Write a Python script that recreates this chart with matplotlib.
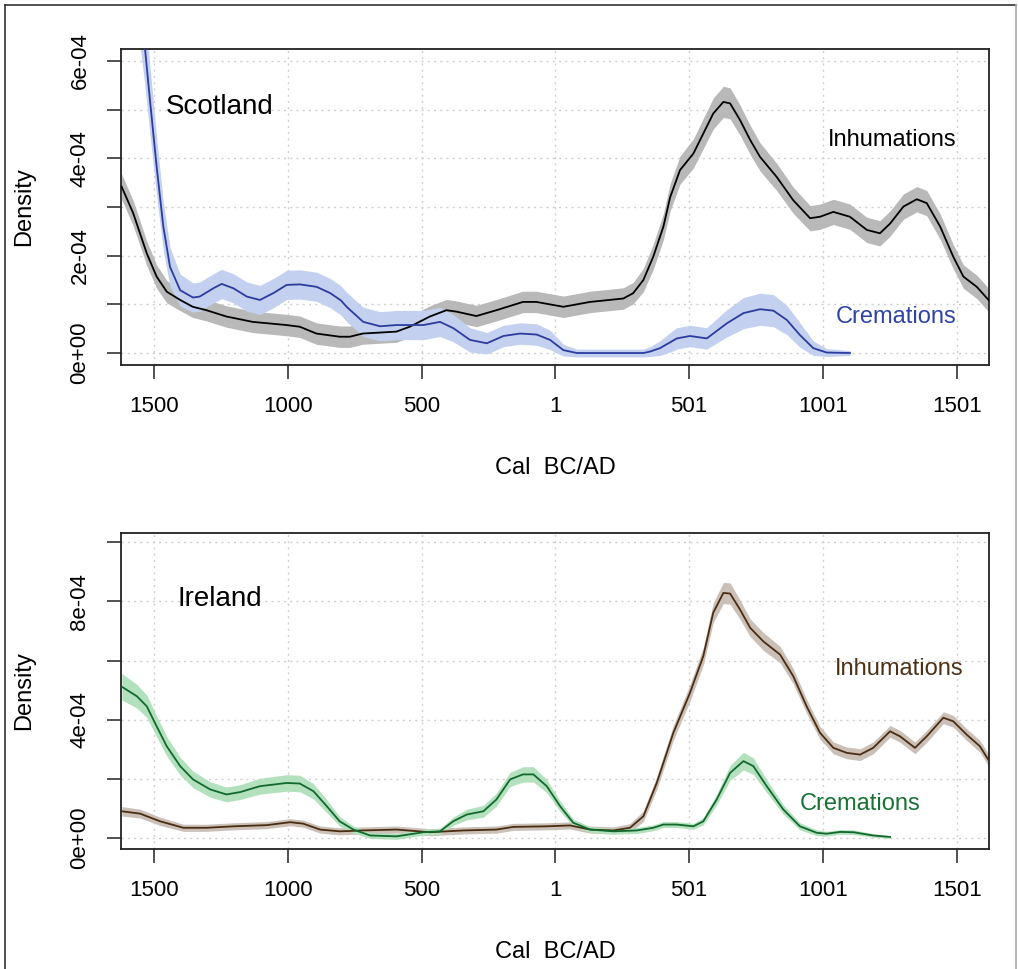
import matplotlib
matplotlib.use("Agg")
import matplotlib.pyplot as plt
from matplotlib.lines import Line2D
import numpy as np

plt.rcParams['font.family'] = ['Liberation Sans', 'DejaVu Sans']

# densities are in units of 1e-4
scale = 1e-4

# Scotland - inhumations
sc_inh_x = [-1620, -1577, -1526, -1489, -1451, -1401, -1354, -1303, -1228, -1130,
            -1004, -954, -892, -805, -767, -719, -593, -543, -468, -406,
            -368, -294, -219, -120, -70, 31, 131, 255, 292, 330,
            367, 405, 430, 467, 517, 554, 591, 629, 654, 691,
            729, 766, 828, 890, 953, 990, 1040, 1102, 1165, 1214,
            1252, 1302, 1352, 1389, 1439, 1488, 1526, 1576, 1620]
sc_inh_y = [3.42, 2.88, 2.05, 1.57, 1.26, 1.09, 0.95, 0.88, 0.75, 0.64,
            0.575, 0.54, 0.40, 0.335, 0.335, 0.40, 0.44, 0.54, 0.75, 0.88,
            0.85, 0.76, 0.88, 1.05, 1.05, 0.95, 1.05, 1.12, 1.23, 1.50,
            1.98, 2.60, 3.20, 3.76, 4.10, 4.51, 4.92, 5.16, 5.13, 4.79,
            4.38, 4.03, 3.62, 3.14, 2.77, 2.80, 2.90, 2.80, 2.53, 2.46,
            2.66, 3.01, 3.16, 3.08, 2.60, 1.98, 1.57, 1.36, 1.09]
sc_inh_hw = [0.26, 0.26, 0.25, 0.24, 0.23, 0.22, 0.22, 0.22, 0.22, 0.22,
             0.22, 0.22, 0.22, 0.22, 0.22, 0.22, 0.22, 0.22, 0.22, 0.22,
             0.22, 0.22, 0.22, 0.22, 0.22, 0.22, 0.22, 0.22, 0.22, 0.24,
             0.26, 0.27, 0.28, 0.29, 0.3, 0.31, 0.32, 0.32, 0.32, 0.31,
             0.3, 0.29, 0.28, 0.27, 0.26, 0.26, 0.26, 0.26, 0.26, 0.26,
             0.26, 0.26, 0.26, 0.26, 0.26, 0.25, 0.24, 0.24, 0.24]

# Scotland - cremations
sc_cre_x = [-1622, -1600, -1560, -1535, -1514, -1489, -1464, -1439, -1401, -1353,
            -1328, -1277, -1246, -1202, -1152, -1103, -1053, -1003, -953, -891,
            -840, -800, -779, -717, -654, -592, -492, -430, -380, -318,
            -255, -193, -131, -69, -19, 31, 81, 200, 330, 355,
            392, 430, 455, 504, 567, 642, 704, 766, 816, 866,
            915, 965, 1015, 1102]
sc_cre_y = [10.5, 9.5, 7.6, 6.4, 5.2, 3.83, 2.60, 1.77, 1.29, 1.14,
            1.16, 1.33, 1.42, 1.33, 1.16, 1.09, 1.23, 1.40, 1.41, 1.36,
            1.23, 1.08, 0.95, 0.64, 0.55, 0.575, 0.575, 0.64, 0.51, 0.27,
            0.20, 0.35, 0.40, 0.38, 0.27, 0.06, 0.0, 0.0, 0.0, 0.03,
            0.10, 0.22, 0.30, 0.35, 0.30, 0.61, 0.82, 0.90, 0.87, 0.68,
            0.37, 0.10, 0.01, 0.0]
sc_cre_hw = [1.0, 1.0, 0.9, 0.8, 0.7, 0.6, 0.5, 0.4, 0.33, 0.3,
             0.3, 0.3, 0.3, 0.3, 0.3, 0.3, 0.3, 0.3, 0.3, 0.3,
             0.3, 0.3, 0.3, 0.3, 0.3, 0.3, 0.3, 0.3, 0.28, 0.25,
             0.22, 0.22, 0.22, 0.22, 0.2, 0.12, 0.08, 0.08, 0.08, 0.1,
             0.15, 0.2, 0.22, 0.22, 0.22, 0.28, 0.32, 0.33, 0.33, 0.3,
             0.25, 0.15, 0.08, 0.05]

# Ireland - inhumations
ir_inh_x = [-1619, -1551, -1476, -1389, -1303, -1202, -1077, -990, -941, -878,
            -805, -716, -593, -468, -343, -219, -156, -31, 56, 131,
            218, 280, 330, 380, 442, 504, 554, 591, 629, 654,
            691, 729, 778, 841, 890, 940, 990, 1040, 1090, 1140,
            1189, 1252, 1289, 1345, 1389, 1451, 1488, 1538, 1588, 1619]
ir_inh_y = [0.89, 0.81, 0.55, 0.33, 0.33, 0.38, 0.42, 0.52, 0.47, 0.27,
            0.21, 0.24, 0.27, 0.18, 0.24, 0.27, 0.36, 0.38, 0.41, 0.27,
            0.24, 0.33, 0.72, 1.85, 3.55, 4.90, 6.15, 7.62, 8.29, 8.27,
            7.73, 7.11, 6.65, 6.20, 5.47, 4.45, 3.55, 3.04, 2.87, 2.81,
            3.04, 3.60, 3.43, 3.04, 3.43, 4.06, 3.94, 3.49, 3.09, 2.64]
ir_inh_hw = [0.16, 0.15, 0.14, 0.12, 0.12, 0.12, 0.12, 0.12, 0.12, 0.12,
             0.12, 0.12, 0.12, 0.12, 0.12, 0.12, 0.12, 0.12, 0.12, 0.12,
             0.12, 0.14, 0.18, 0.22, 0.25, 0.28, 0.3, 0.33, 0.36, 0.36,
             0.33, 0.3, 0.3, 0.28, 0.26, 0.24, 0.22, 0.2, 0.2, 0.2,
             0.2, 0.2, 0.2, 0.2, 0.2, 0.2, 0.2, 0.2, 0.2, 0.2]

# Ireland - cremations
ir_cre_x = [-1619, -1563, -1526, -1489, -1451, -1401, -1353, -1289, -1228, -1177,
            -1103, -1003, -954, -903, -853, -805, -754, -691, -593, -492,
            -430, -381, -330, -268, -219, -168, -120, -81, -31, 19,
            68, 131, 218, 305, 367, 405, 455, 517, 554, 604,
            654, 704, 741, 791, 853, 915, 978, 1015, 1065, 1115,
            1189, 1252]
ir_cre_y = [5.11, 4.79, 4.45, 3.77, 3.09, 2.42, 1.97, 1.63, 1.46, 1.54,
            1.74, 1.85, 1.83, 1.57, 1.06, 0.55, 0.27, 0.07, 0.04, 0.18,
            0.21, 0.55, 0.78, 0.89, 1.29, 1.97, 2.14, 2.14, 1.74, 1.06,
            0.50, 0.27, 0.21, 0.24, 0.33, 0.44, 0.44, 0.38, 0.55, 1.29,
            2.19, 2.59, 2.42, 1.74, 0.95, 0.38, 0.16, 0.13, 0.19, 0.18,
            0.07, 0.02]
ir_cre_hw = [0.45, 0.4, 0.38, 0.35, 0.33, 0.3, 0.28, 0.26, 0.25, 0.25,
             0.27, 0.28, 0.28, 0.26, 0.22, 0.16, 0.12, 0.1, 0.1, 0.1,
             0.1, 0.14, 0.18, 0.2, 0.22, 0.24, 0.26, 0.26, 0.22, 0.18,
             0.12, 0.1, 0.1, 0.1, 0.1, 0.1, 0.1, 0.1, 0.12, 0.18,
             0.25, 0.3, 0.28, 0.22, 0.16, 0.12, 0.1, 0.08, 0.08, 0.08,
             0.06, 0.05]

xtick_pos = [-1499, -999, -499, 1, 501, 1001, 1501]
xtick_lab = ["1500", "1000", "500", "1", "501", "1001", "1501"]

sc_ytick = [0, 1, 2, 3, 4, 5, 6]
sc_ytick_lab = ["0e+00", "", "2e-04", "", "4e-04", "", "6e-04"]
ir_ytick = [0, 2, 4, 6, 8, 10]
ir_ytick_lab = ["0e+00", "", "4e-04", "", "8e-04", ""]


def band(ax, x, y, hw, line_col, band_col):
	x = np.array(x)
	y = np.array(y) * scale
	hw = np.array(hw) * scale
	ax.fill_between(x, y - hw, y + hw, color=band_col, lw=0, zorder=2)
	ax.plot(x, y, color=line_col, lw=1.3, zorder=3, solid_joinstyle='round')


def style_axes(ax, yticks, ylabels, ylim):
	ax.set_xlim(-1622, 1622)
	ax.set_ylim(ylim[0] * scale, ylim[1] * scale)
	ax.set_xticks(xtick_pos)
	ax.set_xticklabels(xtick_lab)
	ax.set_yticks(np.array(yticks) * scale)
	ax.set_yticklabels(ylabels)
	ax.tick_params(axis='both', direction='out', length=10, width=1.1,
	               color='#222222', labelsize=16, pad=12)
	ax.tick_params(axis='y', labelrotation=90)
	for lab in ax.get_yticklabels():
		lab.set_va('center')
	ax.grid(True, color='#cfcfcf', linestyle=(0, (1.5, 3)), lw=1.0, zorder=0)
	for s in ax.spines.values():
		s.set_linewidth(1.3)
		s.set_color('#222222')
	ax.set_xlabel("Cal  BC/AD", fontsize=17, labelpad=29)
	ax.set_ylabel("Density", fontsize=17, labelpad=25)


fig = plt.figure(figsize=(10.18, 9.69), dpi=100)

ax1 = fig.add_axes([0.1189, 0.6233, 0.8527, 0.3261])
band(ax1, sc_inh_x, sc_inh_y, sc_inh_hw, 'black', '#b9b9b9')
band(ax1, sc_cre_x, sc_cre_y, sc_cre_hw, '#2b3c9e', '#c3d0ef')
style_axes(ax1, sc_ytick, sc_ytick_lab, (-0.2466, 6.2466))
ax1.text(-1455, 5.05 * scale, "Scotland", fontsize=20, ha='left', va='center')
ax1.text(1501, 4.38 * scale, "Inhumations", fontsize=17, ha='right', va='center', color='black')
ax1.text(1501, 0.73 * scale, "Cremations", fontsize=17, ha='right', va='center', color='#2e43a6')

ax2 = fig.add_axes([0.1189, 0.1238, 0.8527, 0.3261])
band(ax2, ir_inh_x, ir_inh_y, ir_inh_hw, '#4a2d10', '#cbc0b8')
band(ax2, ir_cre_x, ir_cre_y, ir_cre_hw, '#12692d', '#b3e0bd')
style_axes(ax2, ir_ytick, ir_ytick_lab, (-0.39, 10.32))
ax2.text(-1410, 8.1 * scale, "Ireland", fontsize=20, ha='left', va='center')
ax2.text(1528, 5.72 * scale, "Inhumations", fontsize=17, ha='right', va='center', color='#4d3116')
ax2.text(1364, 1.15 * scale, "Cremations", fontsize=17, ha='right', va='center', color='#177235')

# outer frame of the figure
W, H = 1018, 969
fig.add_artist(Line2D([5 / W, 1016 / W], [1 - 5 / H, 1 - 5 / H], color='#333333', lw=1.2))
fig.add_artist(Line2D([5 / W, 5 / W], [0, 1 - 5 / H], color='#333333', lw=1.2))
fig.add_artist(Line2D([1016 / W, 1016 / W], [0, 1 - 5 / H], color='#aaaaaa', lw=1.2))

plt.savefig("out.png", dpi=100)
plt.close()
